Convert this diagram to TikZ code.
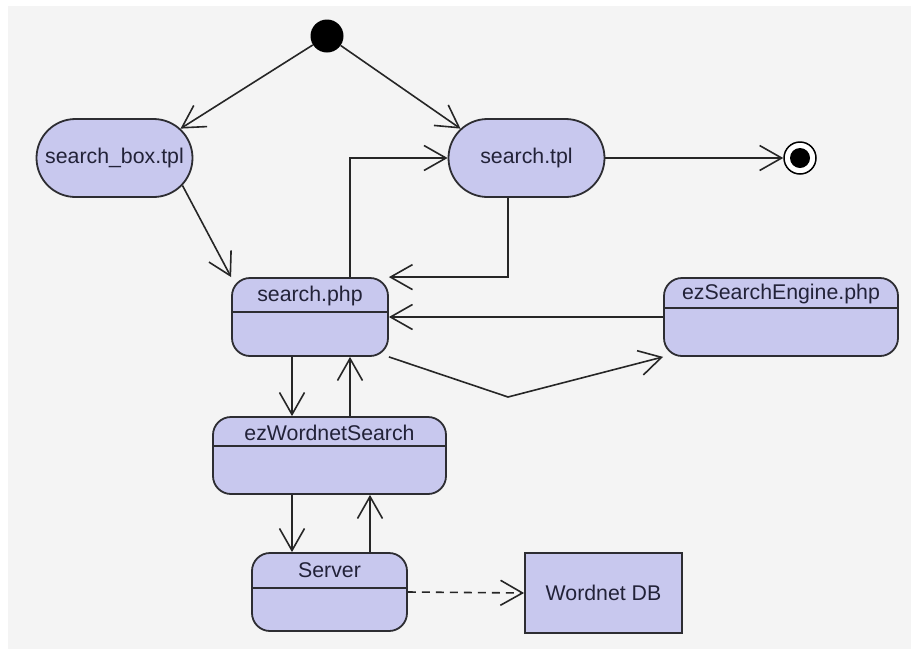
\documentclass[tikz,border=0pt]{standalone}
\usepackage{fontspec}
\setmainfont{Liberation Sans}
\usetikzlibrary{arrows.meta,shapes.misc}
\definecolor{bgc}{RGB}{244,244,244}
\definecolor{fillc}{RGB}{200,200,238}
\definecolor{txtc}{RGB}{34,34,56}
\definecolor{linec}{RGB}{45,45,50}
\begin{document}
\begin{tikzpicture}[x=1pt,y=-1pt,
  every node/.style={font=\fontsize{21.3}{24}\selectfont, text=txtc},
  pill/.style={rounded rectangle, draw=linec, fill=fillc, line width=1.8pt,
    minimum width=156, minimum height=78, inner sep=0},
  actbox/.style={rectangle, rounded corners=18pt, draw=linec, fill=fillc,
    line width=1.8pt, inner sep=0},
  plainbox/.style={rectangle, draw=linec, fill=fillc, line width=1.8pt, inner sep=0},
  ttl/.style={inner sep=0},
  div/.style={draw=linec, line width=1.8pt},
  arr/.style={draw=black!85, line width=1.6pt, -{Straight Barb[length=22pt,width=25pt]}},
]
\useasboundingbox (0,0) rectangle (911,649);
\fill[bgc] (8,6) rectangle (911,649);

% initial and final states
\node[circle, fill=black, minimum size=33, inner sep=0] (start) at (327,36) {};
\node[circle, draw=black, line width=1.5pt, fill=white, minimum size=32, inner sep=0] (end) at (800,158) {};
\node[circle, fill=black, minimum size=20, inner sep=0] (endin) at (800,158) {};

% pills
\node[pill] (sbox) at (114.5,158) {search\_box.tpl};
\node[pill] (stpl) at (526.5,158) {search.tpl};

% search.php
\node[actbox, minimum width=156, minimum height=78] (sphp) at (310,317) {};
\node[ttl] (sphpT) at (310,296) {search.php};
\draw[div] ([yshift=-35pt]sphp.north west) -- ([yshift=-35pt]sphp.north east);

% ezSearchEngine.php
\node[actbox, minimum width=234, minimum height=78] (ezse) at (781,317) {};
\node[ttl] (ezseT) at (781,294) {ezSearchEngine.php};
\draw[div] ([yshift=-31pt]ezse.north west) -- ([yshift=-31pt]ezse.north east);

% ezWordnetSearch
\node[actbox, minimum width=233, minimum height=77] (ezws) at (329.5,455.5) {};
\node[ttl] (ezwsT) at (329.5,432.5) {ezWordnetSearch};
\draw[div] ([yshift=-30pt]ezws.north west) -- ([yshift=-30pt]ezws.north east);

% Server
\node[actbox, minimum width=155, minimum height=78] (server) at (329.5,592) {};
\node[ttl] (serverT) at (329.5,570) {Server};
\draw[div] ([yshift=-36pt]server.north west) -- ([yshift=-36pt]server.north east);

% Wordnet DB
\node[plainbox, minimum width=157, minimum height=80] (wdb) at (603.5,593) {Wordnet DB};

% connectors
\draw[arr] (start) -- (sbox.24);
\draw[arr] (start) -- (stpl.156);
\draw[arr] (sbox.-22) -- (sphp.north west);
\draw[arr] ([xshift=40pt]sphp.north) |- (stpl.west);
\draw[arr] ([xshift=-18.5pt]stpl.south) |- (sphp.north east);
\draw[arr] (stpl.east) -- (end);
\draw[arr] (ezse.west) -- (sphp.east);
\coordinate (bend) at (508,397);
\draw[arr] (sphp.south east) -- (bend) -- (ezse.south west);
\coordinate (a1) at ([xshift=-18pt]sphp.south);
\draw[arr] (a1) -- (a1 |- ezws.north);
\coordinate (a2) at ([xshift=40pt]sphp.south);
\draw[arr] (a2 |- ezws.north) -- (a2);
\coordinate (a3) at ([xshift=-37.5pt]ezws.south);
\draw[arr] (a3) -- (a3 |- server.north);
\coordinate (a4) at ([xshift=40.5pt]server.north);
\draw[arr] (a4) -- (a4 |- ezws.south);
\draw[arr, dash pattern=on 8pt off 6pt] (server.east) -- (wdb.west);
\end{tikzpicture}
\end{document}
